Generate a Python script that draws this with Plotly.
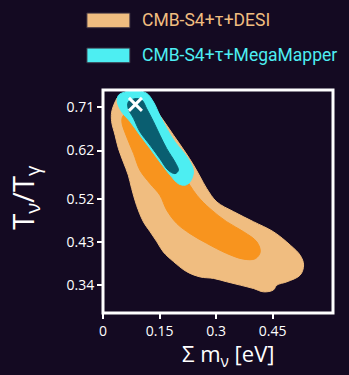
import plotly.graph_objects as go

# ---- data (data units) ----
x_ticks = [0, 0.15, 0.3, 0.45]
x_tick_labels = ["0", "0.15", "0.3", "0.45"]
y_ticks = [0.71, 0.62, 0.52, 0.43, 0.34]
y_tick_labels = ["0.71", "0.62", "0.52", "0.43", "0.34"]

desi_outer_x = [0.041, 0.072, 0.116, 0.151, 0.187, 0.218, 0.240, 0.258, 0.275, 0.302, 0.346,
                0.399, 0.452, 0.497, 0.523, 0.532, 0.523, 0.488, 0.461, 0.452, 0.426, 0.399,
                0.364, 0.328, 0.293, 0.258, 0.222, 0.187, 0.160, 0.143, 0.125, 0.107, 0.089,
                0.076, 0.067, 0.054, 0.041, 0.032, 0.023, 0.023, 0.032]
desi_outer_y = [0.732, 0.739, 0.728, 0.693, 0.652, 0.617, 0.590, 0.565, 0.541, 0.513, 0.493,
                0.472, 0.451, 0.423, 0.402, 0.382, 0.361, 0.347, 0.340, 0.330, 0.326, 0.333,
                0.340, 0.347, 0.354, 0.357, 0.368, 0.389, 0.409, 0.430, 0.451, 0.472, 0.506,
                0.541, 0.569, 0.596, 0.624, 0.652, 0.680, 0.700, 0.721]

desi_inner_x = [0.054, 0.081, 0.125, 0.169, 0.213, 0.249, 0.284, 0.328, 0.373, 0.408, 0.417,
                0.404, 0.373, 0.328, 0.275, 0.231, 0.196, 0.169, 0.151, 0.125, 0.098, 0.081,
                0.063, 0.050]
desi_inner_y = [0.693, 0.700, 0.666, 0.617, 0.569, 0.527, 0.499, 0.472, 0.451, 0.430, 0.409,
                0.395, 0.394, 0.406, 0.427, 0.447, 0.468, 0.496, 0.527, 0.551, 0.579, 0.614,
                0.648, 0.680]

mm_outer_x = [0.041, 0.063, 0.089, 0.116, 0.134, 0.151, 0.169, 0.191, 0.213, 0.231, 0.240,
              0.231, 0.218, 0.200, 0.178, 0.151, 0.125, 0.098, 0.072, 0.050, 0.038]
mm_outer_y = [0.735, 0.743, 0.745, 0.739, 0.721, 0.693, 0.666, 0.638, 0.617, 0.596, 0.576,
              0.555, 0.548, 0.551, 0.569, 0.596, 0.624, 0.652, 0.680, 0.700, 0.721]

mm_inner_x = [0.067, 0.085, 0.103, 0.116, 0.134, 0.151, 0.169, 0.191, 0.200, 0.191, 0.173,
              0.151, 0.125, 0.098, 0.081, 0.067]
mm_inner_y = [0.721, 0.728, 0.725, 0.707, 0.680, 0.652, 0.624, 0.596, 0.579, 0.572, 0.579,
              0.603, 0.631, 0.659, 0.687, 0.707]

fiducial_x = [0.086]
fiducial_y = [0.716]

series_names = ["CMB-S4+τ+DESI", "CMB-S4+τ+MegaMapper"]

# ---- styles ----
BG = "#140A22"
TAN = "#F0BD80"
ORANGE = "#F8941E"
CYAN = "#4DEEF2"
TEAL = "#0A5E70"
FONT = "Open Sans"
LEG_FONT = "Roboto, Open Sans"

fig = go.Figure()


def blob(xs, ys, color, name):
    fig.add_trace(go.Scatter(
        x=xs + xs[:1], y=ys + ys[:1], mode="lines", fill="toself",
        fillcolor=color, line=dict(color=color, width=1, shape="spline", smoothing=1.0),
        name=name, showlegend=False, hoverinfo="skip"))


blob(desi_outer_x, desi_outer_y, TAN, series_names[0])
blob(desi_inner_x, desi_inner_y, ORANGE, series_names[0])
blob(mm_outer_x, mm_outer_y, CYAN, series_names[1])
blob(mm_inner_x, mm_inner_y, TEAL, series_names[1])

fig.add_trace(go.Scatter(
    x=fiducial_x, y=fiducial_y, mode="markers",
    marker=dict(symbol="x-thin", size=13, line=dict(color="white", width=3)),
    showlegend=False, hoverinfo="skip"))

# legend (custom, swatches + coloured text)
legend_colors = [TAN, CYAN]
legend_y = [1.312, 1.155]
for name, col, yy in zip(series_names, legend_colors, legend_y):
    fig.add_shape(type="rect", xref="paper", yref="paper",
                  x0=-0.07, x1=0.117, y0=yy - 0.033, y1=yy + 0.033,
                  fillcolor=col, line=dict(color="#3a3040", width=1))
    fig.add_annotation(text=name, xref="paper", yref="paper", x=0.163, y=yy,
                       xanchor="left", yanchor="middle", showarrow=False,
                       font=dict(family=LEG_FONT, size=17.5, color=col))

# frame
fig.add_shape(type="rect", xref="paper", yref="paper", x0=0, x1=1, y0=0, y1=1,
              line=dict(color="white", width=3), layer="above")

# axis titles
fig.add_annotation(text="T<sub>ν</sub>/T<sub>γ</sub>", xref="paper", yref="paper",
                   x=-0.345, y=0.52, xanchor="center", yanchor="middle",
                   textangle=-90, showarrow=False,
                   font=dict(family=FONT, size=29, color="white"))
fig.add_annotation(text="Σ m<sub>ν</sub> [eV]", xref="paper", yref="paper",
                   x=0.545, y=-0.19, xanchor="center", yanchor="middle", showarrow=False,
                   font=dict(family=FONT, size=22, color="white"))

fig.update_layout(
    width=349, height=375,
    margin=dict(l=103, r=16, t=90, b=62),
    paper_bgcolor=BG, plot_bgcolor=BG,
    showlegend=False,
    xaxis=dict(range=[0, 0.61], tickvals=x_ticks, ticktext=x_tick_labels,
               showgrid=False, zeroline=False, ticks="outside", ticklen=5,
               tickwidth=1.5, tickcolor="white",
               tickfont=dict(family=FONT, size=14, color="white")),
    yaxis=dict(range=[0.282, 0.746], tickvals=y_ticks, ticktext=y_tick_labels,
               showgrid=False, zeroline=False, ticks="outside", ticklen=5,
               tickwidth=1.5, tickcolor="white",
               tickfont=dict(family=FONT, size=14, color="white")),
)

fig.write_html("out.html")
